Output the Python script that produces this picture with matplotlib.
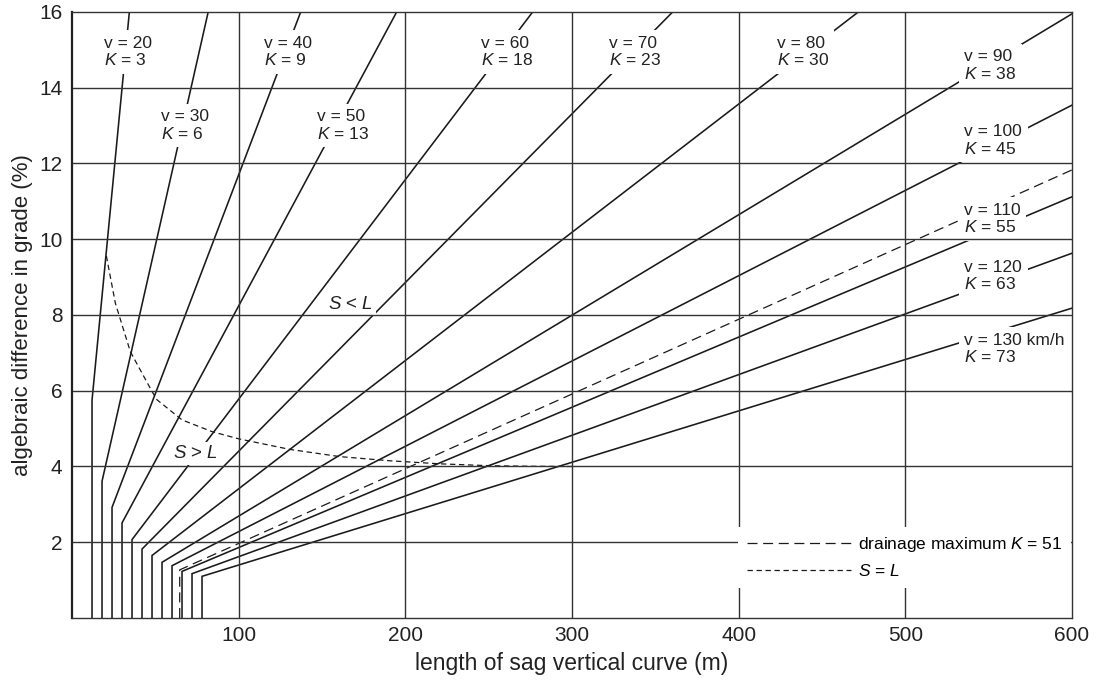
import matplotlib
matplotlib.use("Agg")
import matplotlib.pyplot as plt
from matplotlib.lines import Line2D

plt.rcParams['font.family'] = ['Liberation Sans', 'DejaVu Sans']
plt.rcParams['mathtext.fontset'] = 'custom'
plt.rcParams['mathtext.rm'] = 'Liberation Sans'
plt.rcParams['mathtext.it'] = 'Liberation Sans:italic'

# design speed lines: minimum length (vertical), knee, end point on frame
speeds = [20, 30, 40, 50, 60, 70, 80, 90, 100, 110, 120, 130]
k_values = [3, 6, 9, 13, 18, 23, 30, 38, 45, 55, 63, 73]
l_min = [12, 18, 24, 30, 36, 42, 48, 54, 60, 66, 72, 78]
a_knee = [5.75, 3.61, 2.92, 2.51, 2.07, 1.82, 1.65, 1.47, 1.38, 1.23, 1.17, 1.10]
l_end = [34.4, 81.7, 137.2, 194.8, 276.4, 360.4, 471.8, 600, 600, 600, 600, 600]
a_end = [16, 16, 16, 16, 16, 16, 16, 15.95, 13.54, 11.12, 9.63, 8.18]

# label positions (left edge, vertical centre)
lab_x = [19.2, 53.6, 115.2, 146.8, 245.4, 322.4, 422.8, 535.4, 535.4, 535.4, 535.4, 535.4]
lab_y = [14.94, 13.0, 14.94, 13.0, 14.94, 14.94, 14.94, 14.59, 12.61, 10.53, 9.02, 7.10]

# drainage maximum K = 51
drain_l = [64.6, 64.6, 600]
drain_a = [0, 1.27, 11.83]

# S = L curve
sl_l = [20.6, 26.0, 35.0, 48.0, 51.0, 66.0, 84.0, 100.0, 130.8, 160.8, 190.8, 220.8, 250.8, 275, 300]
sl_a = [9.56, 8.31, 7.03, 5.98, 5.76, 5.23, 4.92, 4.73, 4.45, 4.26, 4.15, 4.07, 4.02, 4.005, 4.0]

fig = plt.figure(figsize=(10.98, 6.8), dpi=100)
ax = fig.add_axes([0.0656, 0.0912, 0.9107, 0.8912])

line_col = '#1a1a1a'
grid_col = '#333333'
txt_col = '#222222'

for i, v in enumerate(speeds):
    ax.plot([l_min[i], l_min[i], l_end[i]], [0, a_knee[i], a_end[i]],
            color=line_col, lw=1.15, zorder=2, solid_joinstyle='miter')
    unit = ' km/h' if v == 130 else ''
    ax.text(lab_x[i], lab_y[i], 'v = %d%s\n$K$ = %d' % (v, unit, k_values[i]),
            ha='left', va='center', fontsize=12.5, linespacing=1.1, color=txt_col,
            zorder=2.5, bbox=dict(fc='white', ec='none', pad=4))

ax.plot(drain_l, drain_a, color=line_col, lw=0.9, dashes=(8, 4.5), zorder=2)
ax.plot(sl_l, sl_a, color=line_col, lw=0.9, dashes=(4.3, 2.9), zorder=2)

ax.text(167.3, 8.28, '$S$ < $L$', ha='center', va='center', fontsize=13.5,
        color=txt_col, zorder=2.5, bbox=dict(fc='white', ec='none', pad=2))
ax.text(74.3, 4.35, '$S$ > $L$', ha='center', va='center', fontsize=13.5,
        color=txt_col, zorder=2.5, bbox=dict(fc='white', ec='none', pad=2))

# grid drawn over the label boxes
for gx in [100, 200, 300, 400, 500]:
    ax.axvline(gx, color=grid_col, lw=1.0, zorder=2.6)
for gy in [2, 4, 6, 8, 10, 12, 14]:
    ax.axhline(gy, color=grid_col, lw=1.0, zorder=2.6)

ax.set_xlim(0, 600)
ax.set_ylim(0, 16)
ax.set_xticks([100, 200, 300, 400, 500, 600])
ax.set_yticks([2, 4, 6, 8, 10, 12, 14, 16])
ax.tick_params(length=0, labelsize=15, colors=txt_col)
ax.tick_params(axis='y', pad=7)
ax.tick_params(axis='x', pad=6)
for s in ['top', 'right', 'bottom']:
    ax.spines[s].set_linewidth(1.0)
    ax.spines[s].set_color(grid_col)
ax.spines['left'].set_linewidth(1.6)
ax.spines['left'].set_color(txt_col)
for sp in ax.spines.values():
    sp.set_zorder(6)

ax.set_xlabel('length of sag vertical curve (m)', fontsize=16.5, color=txt_col, labelpad=5)
ax.set_ylabel('algebraic difference in grade (%)', fontsize=16, color=txt_col, labelpad=4)

handles = [Line2D([], [], color=line_col, lw=0.9, dashes=(8, 4.5)),
           Line2D([], [], color=line_col, lw=0.9, dashes=(4.3, 2.9))]
leg = ax.legend(handles, ['drainage maximum $K$ = 51', '$S$ = $L$'],
                loc='lower right', bbox_to_anchor=(0.999, 0.05), fontsize=12.5,
                handlelength=6.0, handletextpad=0.4, labelspacing=0.5,
                frameon=True, fancybox=False, borderpad=0.5, borderaxespad=0)
leg.get_frame().set_facecolor('white')
leg.get_frame().set_edgecolor('none')
leg.get_frame().set_alpha(1)
leg.set_zorder(5)

fig.savefig('out.png', dpi=100)
